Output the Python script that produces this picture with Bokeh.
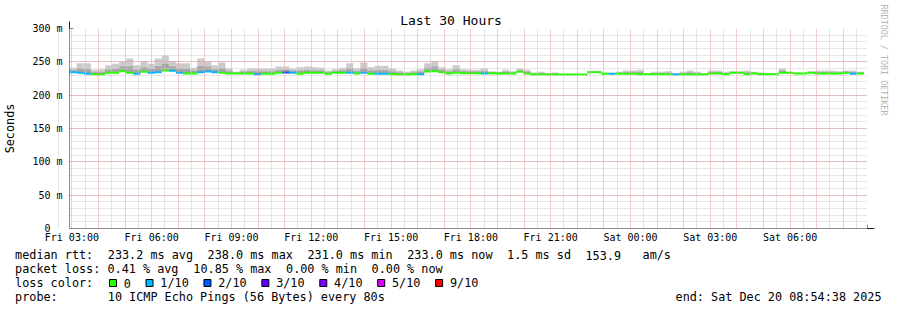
import re
from bokeh.plotting import figure
from bokeh.models import Range1d, FixedTicker, Arrow, NormalHead, ColumnDataSource, Title
from bokeh.layouts import column
from bokeh.embed import file_html
from bokeh.resources import INLINE
from bokeh.core.properties import value

# ---------------- data ----------------
start_hour = 2 + 54 / 60 + 38 / 3600      # Fri 02:54:38, hours since Fri 00:00
span_hours = 30
step_minutes = 16

median_ms = [
    234.5, 233.5, 232, 231.5, 231, 233.5, 233.5, 236, 233.5, 232,
    235, 233.5, 234.5, 237, 236.5, 233.5, 232.5, 232.5, 234.5, 235.5,
    234.5, 233.5, 232.5, 232.5, 232.5, 232.5, 231.5, 232, 232, 233.5,
    234, 233.5, 232, 233.5, 233.5, 233.5, 232, 233.5, 233.5, 233.5,
    232.5, 233.5, 232, 232, 232, 231.5, 231, 231, 231.5, 231.5,
    235.5, 236, 234.5, 232.5, 233.5, 233, 233, 233, 232.5, 233,
    232.5, 232.5, 232.5, 235, 232.5, 231, 231, 231, 231, 231,
    231, 231, 231, 234.5, 234.5, 232, 232, 232, 232, 232,
    231.5, 231.5, 231.5, 231.5, 231.5, 231, 231, 231, 231, 231,
    232.5, 232.5, 231.5, 233.5, 233.5, 231.5, 232.5, 231.5, 231.5, 231.5,
    233.5, 233.5, 232.5, 232.5, 233.5, 232.5, 232.5, 232.5, 232.5, 233.5,
    232, 232.5,
]
loss_count = [
    1, 1, 1, 0, 0, 0, 0, 0, 0, 1,
    0, 1, 1, 0, 1, 1, 0, 0, 1, 1,
    1, 0, 0, 0, 0, 0, 1, 0, 0, 0,
    2, 1, 0, 0, 0, 0, 0, 0, 0, 1,
    0, 1, 0, 1, 1, 0, 0, 0, 0, 1,
    0, 0, 0, 0, 0, 0, 0, 0, 1, 0,
    0, 0, 0, 0, 0, 0, 0, 0, 0, 0,
    0, 0, 0, 0, 0, 0, 1, 0, 0, 0,
    0, 0, 0, 0, 0, 1, 0, 0, 0, 0,
    0, 0, 0, 0, 0, 0, 0, 0, 0, 0,
    0, 0, 0, 0, 0, 0, 0, 0, 0, 0,
    1, 0,
]
smoke_hi = [
    241, 248, 248, 238, 239, 245, 247, 250, 255, 245,
    251, 247, 255, 260, 251, 248, 248, 241, 255, 251,
    245, 249, 240, 235, 238, 240, 240, 240, 240, 243,
    243, 240, 242, 243, 242, 241, 237, 239, 241, 248,
    240, 249, 242, 244, 244, 240, 237, 235, 237, 239,
    248, 251, 242, 239, 245, 239, 238, 238, 240, 236,
    235, 238, 236, 240, 238, 234, 235, 233, 234, 231,
    231, 231, 231, 236, 236, 234, 233, 235, 237, 237,
    238, 233, 235, 235, 236, 233, 235, 237, 235, 233,
    237, 237, 235, 236, 236, 237, 235, 234, 233, 233,
    240, 235, 234, 234, 236, 237, 237, 237, 236, 237,
    237, 235,
]
smoke_mid = [
    237.5, 240, 239, 234.5, 234.5, 238.5, 239.5, 243, 243, 238,
    242, 239.5, 243.5, 247, 243, 240, 239.5, 236.5, 243.5, 242.5,
    239, 240.5, 236, 234, 235, 236, 235.5, 235.5, 235.5, 237.5,
    238, 236.5, 236.5, 237.5, 237, 237, 234.5, 236, 237, 240,
    236, 240.5, 236.5, 237.5, 237.5, 235.5, 234, 233, 234, 235,
    241, 243, 238, 235.5, 238.5, 236, 235.5, 235.5, 236, 234.5,
    234, 235, 234, 237, 235, 232.5, 233, 232, 232.5, 231,
    231, 231, 231, 235, 235, 233, 232.5, 233.5, 234, 234,
    234.5, 232, 233, 233, 233.5, 232, 233, 234, 233, 232,
    234.5, 234.5, 233, 234.5, 234.5, 234, 233.5, 232.5, 232, 232,
    236.5, 234, 233, 233, 234.5, 234.5, 234.5, 234.5, 234, 235,
    234.5, 233.5,
]
y_ticks = [0, 50, 100, 150, 200, 250, 300]
y_tick_labels = ["0\u00a0\u00a0", "50 m", "100 m", "150 m", "200 m", "250 m", "300 m"]
x_ticks = [3, 6, 9, 12, 15, 18, 21, 24, 27, 30]
x_tick_labels = ["Fri 03:00", "Fri 06:00", "Fri 09:00", "Fri 12:00", "Fri 15:00",
                 "Fri 18:00", "Fri 21:00", "Sat 00:00", "Sat 03:00", "Sat 06:00"]

loss_palette = ["#26ff00", "#00b8ff", "#0059ff", "#5e00ff", "#7e00ff", "#dd00ff",
                "#ff0000", "#ff0000", "#ff0000", "#ff0000", "#ff0000"]
legend_loss_labels = ["0", "1/10", "2/10", "3/10", "4/10", "5/10", "9/10"]
legend_loss_colors = ["#26ff00", "#00b8ff", "#0059ff", "#5e00ff", "#7e00ff", "#dd00ff", "#ff0000"]

title_text = "Last 30 Hours"
y_label_text = "Seconds"
side_text = "RRDTOOL / TOBI OETIKER"
legend_lines = [
    "median rtt:  233.2 ms avg  238.0 ms max  231.0 ms min  233.0 ms now  1.5 ms sd  153.9   am/s",
    "packet loss: 0.41 % avg  10.85 % max  0.00 % min  0.00 % now",
    "loss color:",
    "probe:       10 ICMP Echo Pings (56 Bytes) every 80s",
]
end_text = "end: Sat Dec 20 08:54:38 2025"

# ---------------- layout constants ----------------
FONT = "DejaVu Sans Mono"
W = 897
FRAME_L, FRAME_R, FRAME_T, FRAME_B = 67, 867, 28, 228
MAIN_H = 245
LEG_H = 310 - MAIN_H

end_hour = start_hour + span_hours
px_per_hour = (FRAME_R - FRAME_L) / span_hours
px_per_ms = (FRAME_B - FRAME_T) / 300.0


def hx(sx):
    return start_hour + (sx - FRAME_L) / px_per_hour


def my(sy):
    return (FRAME_B - sy) / px_per_ms


n = len(median_ms)
step_h = step_minutes / 60
left = [start_hour + i * step_h for i in range(n)]
right = [l + step_h for l in left]
src = ColumnDataSource(dict(
    left=left, right=right, median=median_ms, hi=smoke_hi, mid=smoke_mid,
    color=[loss_palette[c] for c in loss_count],
))

p = figure(width=W, height=MAIN_H, output_backend="svg", toolbar_location=None,
           x_range=Range1d(start_hour, end_hour), y_range=Range1d(0, 300),
           min_border_left=FRAME_L, min_border_right=W - FRAME_R,
           min_border_top=FRAME_T, min_border_bottom=MAIN_H - FRAME_B,
           background_fill_color="white", border_fill_color="white",
           outline_line_color=None)

# title (top, centred on the whole image)
TITLE_PX = 13
p.title.text = title_text
p.title.text_font = FONT
p.title.text_font_size = f"{TITLE_PX}px"
p.title.text_font_style = "normal"
p.title.text_color = "black"
p.title.align = "left"
p.title.offset = W / 2 - len(title_text) * 0.602 * TITLE_PX / 2 - FRAME_L
p.title.standoff = 1

# vertical credit text on the right
p.add_layout(Title(text=side_text, align="left", offset=-24, text_font=FONT,
                   text_font_size="8.4px", text_font_style="normal",
                   vertical_align="top", text_color="#b4b4b4", standoff=18), "right")

# smoke
p.quad(left="left", right="right", bottom="median", top="hi", source=src,
       fill_color="#cbcbcb", line_color=None)
p.quad(left="left", right="right", bottom="median", top="mid", source=src,
       fill_color="#a4a4a4", line_color=None)
# median line coloured by loss
p.segment(x0="left", y0="median", x1="right", y1="median", source=src,
          line_color="color", line_width=2)

# axes
p.xaxis.ticker = FixedTicker(ticks=x_ticks)
p.xaxis.major_label_overrides = dict(zip(x_ticks, x_tick_labels))
p.yaxis.ticker = FixedTicker(ticks=y_ticks)
p.yaxis.major_label_overrides = dict(zip(y_ticks, y_tick_labels))
for ax in (p.xaxis, p.yaxis):
    ax.axis_line_color = None
    ax.major_tick_line_color = None
    ax.minor_tick_line_color = None
    ax.major_tick_out = 0
    ax.major_tick_in = 0
    ax.minor_tick_out = 0
    ax.minor_tick_in = 0
    ax.major_label_text_font = FONT
    ax.major_label_text_font_size = "10px"
    ax.major_label_text_color = "black"
p.xaxis.major_label_standoff = 3
p.yaxis.major_label_standoff = 7
p.yaxis.axis_label = y_label_text
p.yaxis.axis_label_text_font = FONT
p.yaxis.axis_label_text_font_size = "11.8px"
p.yaxis.axis_label_text_font_style = "normal"
p.yaxis.axis_label_text_color = "black"
p.yaxis.axis_label_standoff = 12

# grid
p.xgrid.ticker = FixedTicker(ticks=list(range(3, 33)),
                             minor_ticks=[h + 0.5 for h in range(2, 33)])
p.ygrid.ticker = FixedTicker(ticks=y_ticks, minor_ticks=list(range(0, 301, 10)))
for g in (p.xgrid, p.ygrid):
    g.grid_line_color = "#eb9595"
    g.grid_line_dash = "1 1"
    g.grid_line_width = 1
    g.minor_grid_line_color = "#cccccc"
    g.minor_grid_line_dash = "1 1"
    g.minor_grid_line_width = 1
    g.level = "guide"

# axis lines with arrows
ARROW_C = "#802020"
p.add_layout(Arrow(end=NormalHead(size=7, fill_color=ARROW_C, line_color=ARROW_C),
                   x_start=hx(FRAME_L - 6), y_start=0, x_end=hx(FRAME_R + 7), y_end=0,
                   line_color="#1f1f1f", line_width=1))
p.add_layout(Arrow(end=NormalHead(size=7, fill_color=ARROW_C, line_color=ARROW_C),
                   x_start=hx(FRAME_L), y_start=my(FRAME_B + 5), x_end=hx(FRAME_L),
                   y_end=my(FRAME_T - 7), line_color="#1f1f1f", line_width=1))

# ---------------- legend area ----------------
q = figure(width=W, height=LEG_H, output_backend="svg", toolbar_location=None,
           x_range=Range1d(0, W), y_range=Range1d(LEG_H, 0),
           x_axis_location=None, y_axis_location=None, min_border=0,
           background_fill_color="white", border_fill_color="white",
           outline_line_color=None)
q.title.visible = False
q.xgrid.grid_line_color = None
q.ygrid.grid_line_color = None
for fig in (p, q):
    if "frame_align" in fig.properties():
        fig.frame_align = False

CW = 7.13
TX0 = 14.6
line_y = [254.5 - MAIN_H, 268.5 - MAIN_H, 282.5 - MAIN_H, 296.5 - MAIN_H]
tx, ty, tt = [], [], []
for line, yy in zip(legend_lines, line_y):
    for m in re.finditer(r"\S+(?: \S+)*", line):
        tx.append(TX0 + m.start() * CW)
        ty.append(yy)
        tt.append(m.group())
q.text(x=tx, y=ty, text=tt, text_font=value(FONT), text_font_size=value("11.8px"),
       text_baseline="middle", text_align="left", text_color="black")
q.text(x=[881], y=[line_y[3]], text=[end_text], text_font=value(FONT),
       text_font_size=value("11.8px"), text_baseline="middle", text_align="right",
       text_color="black")

# loss colour boxes
bx = []
cur = 109.0
for lab in legend_loss_labels:
    bx.append(cur)
    cur += 29.4 + CW * len(lab)
q.quad(left=bx, right=[b + 7 for b in bx], top=[line_y[2] - 3.5] * len(bx),
       bottom=[line_y[2] + 3.5] * len(bx), fill_color=legend_loss_colors,
       line_color="black", line_width=1)
q.text(x=[b + 14.3 for b in bx], y=[line_y[2]] * len(bx), text=legend_loss_labels,
       text_font=value(FONT), text_font_size=value("11.8px"), text_baseline="middle",
       text_align="left", text_color="black")

layout = column(p, q, spacing=0)
open("out.html", "w").write(file_html(layout, INLINE))
